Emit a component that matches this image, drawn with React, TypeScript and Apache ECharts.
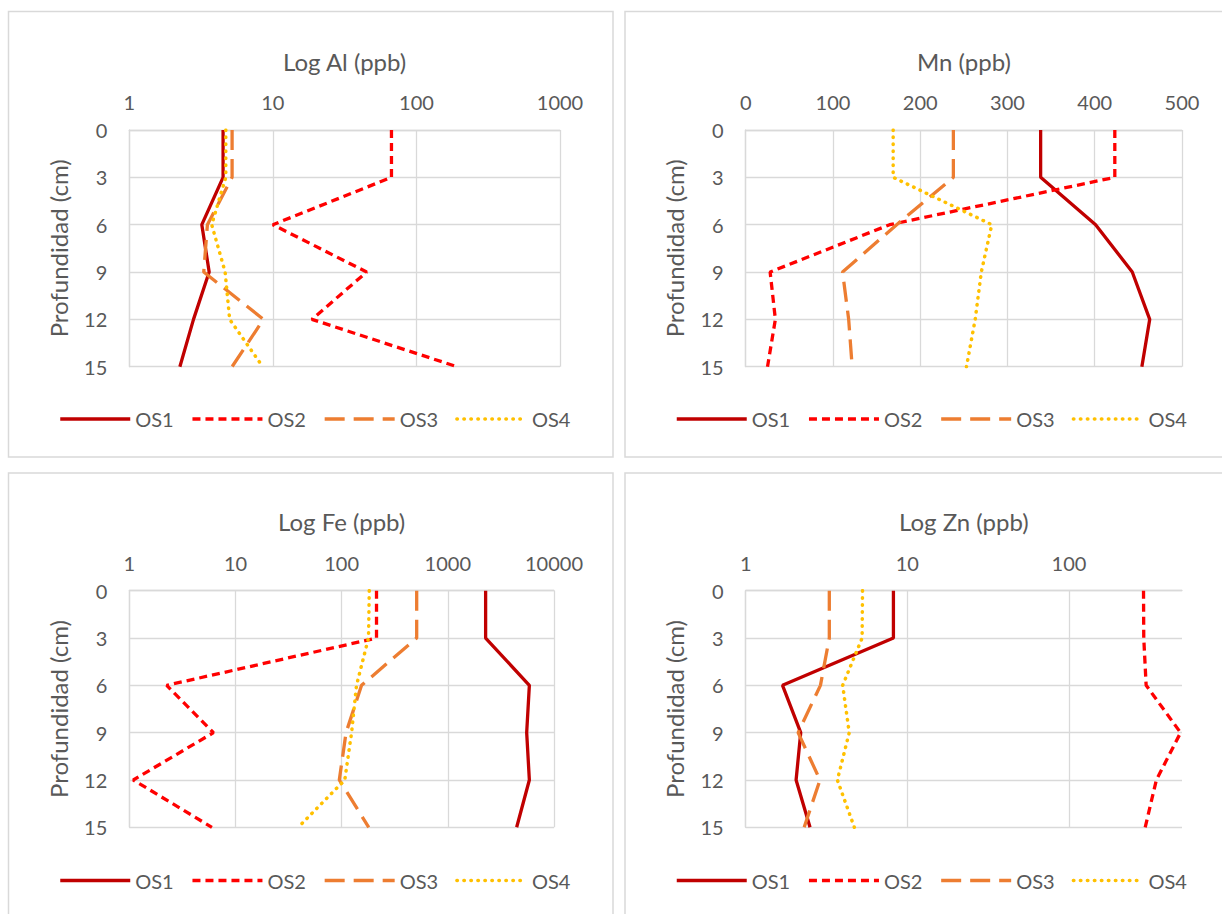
import React, { useEffect, useRef } from 'react';
import * as echarts from 'echarts';

const depths = [0, 3, 6, 9, 12, 15];
const seriesNames = ['OS1', 'OS2', 'OS3', 'OS4'];
const titles = ['Log Al (ppb)', 'Mn (ppb)', 'Log Fe (ppb)', 'Log Zn (ppb)'];
const depthAxisName = 'Profundidad (cm)';

// Log Al (ppb)
const alOS1 = [4.5, 4.5, 3.2, 3.6, 2.8, 2.25];
const alOS2 = [67, 67, 10, 45, 18.7, 192];
const alOS3 = [5.2, 5.2, 3.5, 3.3, 8.6, 5.2];
const alOS4 = [4.7, 4.7, 3.75, 4.65, 5.0, 8.5];

// Mn (ppb)
const mnOS1 = [338, 338, 401, 443, 463, 454];
const mnOS2 = [423, 423, 165, 28, 34, 25];
const mnOS3 = [238, 238, 173, 111, 118, 122];
const mnOS4 = [169, 169, 282, 270, 263, 253];

// Log Fe (ppb)
const feOS1 = [2270, 2270, 5860, 5530, 5860, 4450];
const feOS2 = [213, 213, 2.25, 6.2, 1.09, 6];
const feOS3 = [509, 509, 154, 110, 95, 180];
const feOS4 = [182, 179, 138, 124, 107, 39];

// Log Zn (ppb)
const znOS1 = [8.2, 8.2, 1.69, 2.19, 2.05, 2.5];
const znOS2 = [289, 290, 300, 490, 347, 296];
const znOS3 = [3.29, 3.29, 2.9, 2.11, 2.88, 2.3];
const znOS4 = [5.28, 5.25, 3.98, 4.37, 3.69, 4.7];

const panelData = [
  [alOS1, alOS2, alOS3, alOS4],
  [mnOS1, mnOS2, mnOS3, mnOS4],
  [feOS1, feOS2, feOS3, feOS4],
  [znOS1, znOS2, znOS3, znOS4],
];

const FONT = 'Lato';
const TEXT = '#595959';
const GRIDC = '#d9d9d9';

const lineStyles = [
  { color: '#C00000', type: 'solid', width: 3.3, cap: 'butt' },
  { color: '#FF0000', type: [8, 5], width: 3.3, cap: 'butt' },
  { color: '#ED7D31', type: [20, 9], width: 3.3, cap: 'butt' },
  { color: '#FFC000', type: [0.5, 6.5], width: 3.5, cap: 'round' },
];

const panels = [
  { log: true, min: 1, max: 1000, hideMax: false, box: [8.5, 11.5, 604.5, 445.5], grid: { left: 129.3, top: 130, width: 430.7, height: 236.7 } },
  { log: false, min: 0, max: 500, hideMax: false, box: [625, 11.5, 620, 445.5], grid: { left: 745.7, top: 130, width: 436.3, height: 236.7 } },
  { log: true, min: 1, max: 10000, hideMax: false, box: [8.5, 473, 604.5, 470], grid: { left: 129.3, top: 590.7, width: 424.7, height: 236.6 } },
  { log: true, min: 1, max: 500, hideMax: true, box: [625, 473, 620, 470], grid: { left: 745.7, top: 590.7, width: 436.3, height: 236.6 } },
];

export default function App() {
  const ref = useRef<HTMLDivElement>(null);
  useEffect(() => {
    if (!ref.current) return;
    const chart = echarts.init(ref.current, undefined, { renderer: 'svg' });
    const labelStyle = { color: TEXT, fontSize: 20, fontFamily: FONT };
    const nameStyle = { color: TEXT, fontSize: 24, fontFamily: FONT };
    const option: any = {
      animation: false,
      backgroundColor: '#ffffff',
      graphic: panels.map((p) => ({
        type: 'rect',
        z: -10,
        shape: { x: p.box[0], y: p.box[1], width: p.box[2], height: p.box[3] },
        style: { fill: 'none', stroke: GRIDC, lineWidth: 1.5 },
      })),
      grid: panels.map((p) => ({ ...p.grid, containLabel: false })),
      xAxis: panels.map((p, i) => ({
        gridIndex: i,
        type: p.log ? 'log' : 'value',
        logBase: 10,
        position: 'top',
        min: p.min,
        max: p.max,
        ...(p.log ? {} : { interval: 100 }),
        name: titles[i],
        nameLocation: 'middle',
        nameGap: 57,
        nameTextStyle: nameStyle,
        axisLine: { show: true, lineStyle: { color: GRIDC, width: 1.3 } },
        axisTick: { show: false },
        axisLabel: {
          ...labelStyle,
          margin: 18,
          showMaxLabel: !p.hideMax,
          formatter: (v: number) => String(Math.round(v)),
        },
        splitLine: { show: true, showMaxLine: !p.hideMax, lineStyle: { color: GRIDC, width: 1.3 } },
      })),
      yAxis: panels.map((p, i) => ({
        gridIndex: i,
        type: 'value',
        inverse: true,
        min: depths[0],
        max: depths[depths.length - 1],
        interval: 3,
        name: depthAxisName,
        nameLocation: 'middle',
        nameGap: 59,
        nameTextStyle: nameStyle,
        axisLine: { show: true, lineStyle: { color: GRIDC, width: 1.3 } },
        axisTick: { show: false },
        axisLabel: { ...labelStyle, margin: 22 },
        splitLine: { show: true, lineStyle: { color: GRIDC, width: 1.3 } },
      })),
      legend: panels.map((p) => ({
        left: p.box[0] + 50,
        top: p.box[1] + 397.5,
        padding: 0,
        itemWidth: 70,
        itemHeight: 14,
        itemGap: 17,
        data: seriesNames,
        textStyle: labelStyle,
        lineStyle: { width: 3.5 },
        itemStyle: { opacity: 0, borderWidth: 0, color: 'rgba(0,0,0,0)' },
        selectedMode: false,
      })),
      series: panels.flatMap((p, i) =>
        seriesNames.map((name, s) => ({
          type: 'line',
          name,
          xAxisIndex: i,
          yAxisIndex: i,
          symbol: 'none',
          color: lineStyles[s].color,
          lineStyle: { ...lineStyles[s] },
          data: depths.map((d, k) => [panelData[i][s][k], d]),
        }))
      ),
    };
    chart.setOption(option);
    return () => chart.dispose();
  }, []);
  return (
    <div
      ref={ref}
      style={{ position: 'absolute', left: 0, top: 0, width: 1222, height: 914, background: '#fff' }}
    />
  );
}
